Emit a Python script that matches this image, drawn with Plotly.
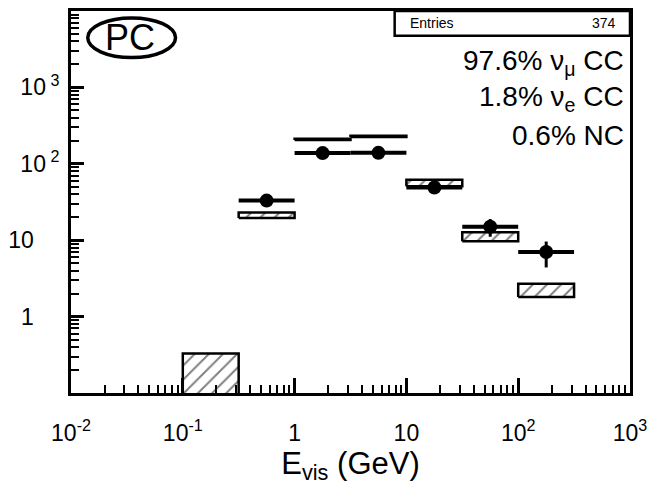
import plotly.graph_objects as go

# ---- data ----
bin_edges = [0.1, 0.316, 1.0, 3.16, 10.0, 31.6, 100.0, 316.0]
bin_centers = [0.178, 0.562, 1.78, 5.62, 17.8, 56.2, 178.0]
data_counts = [None, 33, 138, 139, 49, 15, 7]
data_err = [None, 5.7, 11.7, 11.8, 7.0, 3.9, 2.6]
mc_low = [0.01, 19.5, 205, 224, 51, 9.7, 1.8]
mc_high = [0.33, 23, 213, 233, 62, 12.7, 2.7]

x_tickvals = [0.01, 0.1, 1, 10, 100, 1000]
x_ticktext = ["10<sup>-2</sup>", "10<sup>-1</sup>", "1", "10", "10<sup>2</sup>", "10<sup>3</sup>"]
y_tickvals = [0.1, 1, 10, 100, 1000, 10000]
y_ticktext = ["", "1\u00a0\u00a0\u00a0\u00a0", "10\u00a0\u00a0\u00a0\u00a0", "10<sup> 2</sup>", "10<sup> 3</sup>", ""]

labels = ["97.6% \u03bd<sub>\u03bc</sub> CC", "1.8% \u03bd<sub>e</sub> CC", "0.6% NC"]
entries_label = "Entries"
entries_value = "374"
FONT = "Liberation Sans, Arial, Helvetica, sans-serif"

# ---- MC hatched boxes ----
mx, my = [], []
for i in range(len(bin_centers)):
    lo_e, hi_e = bin_edges[i], bin_edges[i + 1]
    mx += [lo_e, hi_e, hi_e, lo_e, lo_e, None]
    my += [mc_low[i], mc_low[i], mc_high[i], mc_high[i], mc_low[i], None]

fig = go.Figure()
fig.add_trace(go.Scatter(
    x=mx, y=my, mode="lines", fill="toself", fillcolor="white",
    fillpattern=dict(shape="/", size=10, solidity=0.2, fgcolor="black", bgcolor="white"),
    line=dict(color="black", width=2.5), hoverinfo="skip"))

# ---- data points ----
px = [c for c, v in zip(bin_centers, data_counts) if v is not None]
py = [v for v in data_counts if v is not None]
pe = [e for e in data_err if e is not None]
plo = [bin_edges[i] for i, v in enumerate(data_counts) if v is not None]
phi = [bin_edges[i + 1] for i, v in enumerate(data_counts) if v is not None]
fig.add_trace(go.Scatter(
    x=px, y=py, mode="markers",
    marker=dict(color="black", size=14),
    error_x=dict(type="data", symmetric=False,
                 array=[h - c for h, c in zip(phi, px)],
                 arrayminus=[c - l for c, l in zip(px, plo)],
                 color="black", thickness=4, width=0),
    error_y=dict(type="data", array=pe, color="black", thickness=3, width=0)))

# minor tick positions
minor_x = [m * 10 ** e for e in range(-2, 3) for m in range(2, 10)]
minor_y = [m * 10 ** e for e in range(-1, 4) for m in range(2, 10)]

axis_common = dict(type="log", showline=True, linewidth=3, linecolor="black", mirror=True,
                   ticks="inside", tickcolor="black", tickwidth=2.5, showgrid=False, zeroline=False,
                   tickmode="array")

fig.update_layout(
    width=667, height=502,
    margin=dict(l=65, r=37, t=8, b=109),
    paper_bgcolor="white", plot_bgcolor="white",
    showlegend=False,
    font=dict(family=FONT, color="black"),
    xaxis=dict(**axis_common, range=[-2, 3], tickvals=x_tickvals, ticktext=x_ticktext,
               ticklen=15, tickfont=dict(size=23), ticklabelstandoff=17,
               minor=dict(ticks="inside", ticklen=8, tickwidth=2, tickcolor="black",
                          tickmode="array", tickvals=minor_x, showgrid=False),
               title=dict(text="E<sub>vis</sub> (GeV)", font=dict(size=31), standoff=8)),
    yaxis=dict(**axis_common, range=[-1, 4], tickvals=y_tickvals, ticktext=y_ticktext,
               ticklen=13, tickfont=dict(size=23), ticklabelstandoff=4,
               minor=dict(ticks="inside", ticklen=8, tickwidth=2, tickcolor="black",
                          tickmode="array", tickvals=minor_y, showgrid=False)),
)

# PC ellipse label
fig.add_shape(type="circle", xref="paper", yref="paper",
              x0=0.030, x1=0.187, y0=0.878, y1=0.982,
              line=dict(color="black", width=3.5), fillcolor="rgba(0,0,0,0)")
fig.add_annotation(text="PC", xref="paper", yref="paper", x=0.106, y=0.930,
                   showarrow=False, font=dict(size=36), xanchor="center", yanchor="middle")

# Entries box
fig.add_shape(type="rect", xref="paper", yref="paper", x0=0.579, x1=1.0, y0=0.935, y1=1.0,
              line=dict(color="black", width=2.5), fillcolor="rgba(0,0,0,0)")
fig.add_annotation(text=entries_label, xref="paper", yref="paper", x=0.602, y=0.968,
                   showarrow=False, font=dict(size=14), xanchor="left", yanchor="middle")
fig.add_annotation(text=entries_value, xref="paper", yref="paper", x=0.979, y=0.968,
                   showarrow=False, font=dict(size=14), xanchor="right", yanchor="middle")

for lab, yy in zip(labels, [0.866, 0.770, 0.675]):
    fig.add_annotation(text=lab, xref="paper", yref="paper", x=0.993, y=yy,
                       showarrow=False, font=dict(size=28), xanchor="right", yanchor="middle")

fig.write_html("out.html")
